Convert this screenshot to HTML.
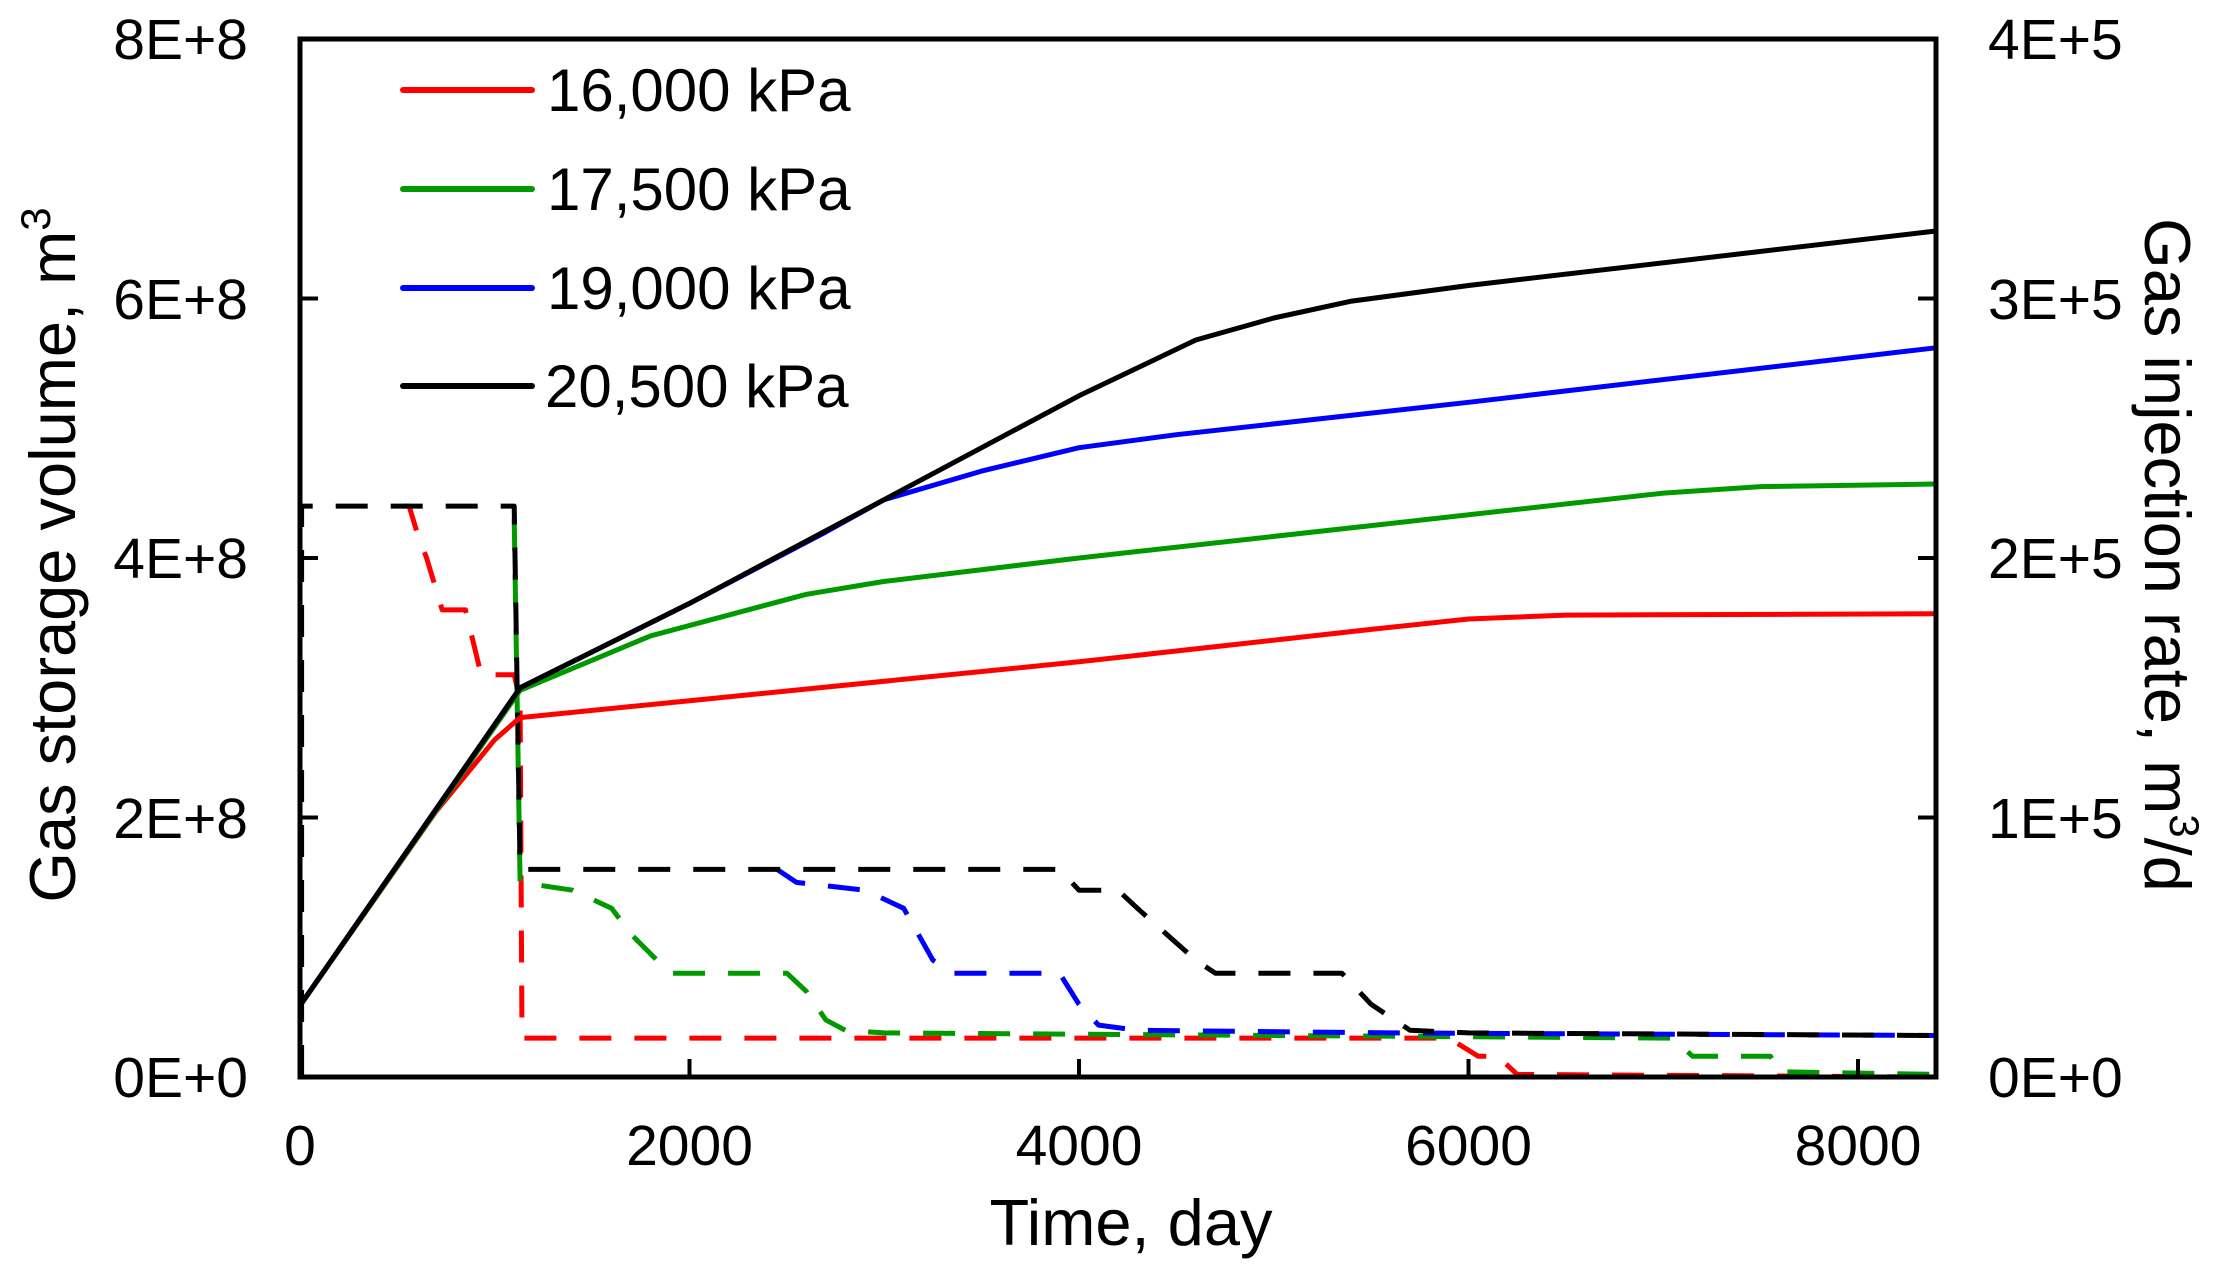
<!DOCTYPE html>
<html><head><meta charset="utf-8"><style>
html,body{margin:0;padding:0;background:#fff;}
svg{display:block;font-family:"Liberation Sans",Arial,sans-serif;}
</style></head><body>
<svg id="s" width="2215" height="1271" viewBox="0 0 2215 1271" xmlns="http://www.w3.org/2000/svg">
<rect width="2215" height="1271" fill="#fff"/>
<g id="series"></g>
<rect x="300" y="39" width="1636" height="1038" fill="none" stroke="#000" stroke-width="5"/>
<g stroke="#000" stroke-width="4">
<line x1="300" y1="817.5" x2="318" y2="817.5"/><line x1="300" y1="558" x2="318" y2="558"/><line x1="300" y1="298.5" x2="318" y2="298.5"/>
<line x1="1936" y1="817.5" x2="1918" y2="817.5"/><line x1="1936" y1="558" x2="1918" y2="558"/><line x1="1936" y1="298.5" x2="1918" y2="298.5"/>
<line x1="689.5" y1="1077" x2="689.5" y2="1059"/><line x1="1079" y1="1077" x2="1079" y2="1059"/><line x1="1468.5" y1="1077" x2="1468.5" y2="1059"/><line x1="1858" y1="1077" x2="1858" y2="1059"/>
</g>
<g font-size="57" fill="#000" text-anchor="end">
<text x="248" y="1097">0E+0</text><text x="248" y="838">2E+8</text><text x="248" y="578">4E+8</text><text x="248" y="319">6E+8</text><text x="248" y="59">8E+8</text>
</g>
<g font-size="57" fill="#000" text-anchor="start">
<text x="1988" y="1097">0E+0</text><text x="1988" y="838">1E+5</text><text x="1988" y="578">2E+5</text><text x="1988" y="319">3E+5</text><text x="1988" y="59">4E+5</text>
</g>
<g font-size="57" fill="#000" text-anchor="middle">
<text x="300" y="1165">0</text><text x="689.5" y="1165">2000</text><text x="1079" y="1165">4000</text><text x="1468.5" y="1165">6000</text><text x="1858" y="1165">8000</text>
</g>
<g font-size="65" fill="#000" text-anchor="middle">
<text x="1131" y="1245">Time, day</text>
<text transform="translate(75,555) rotate(-90)">Gas storage volume, m<tspan font-size="42" dy="-25">3</tspan></text>
<text transform="translate(2145,555) rotate(90)">Gas injection rate, m<tspan font-size="42" dy="-25">3</tspan><tspan dy="25">/d</tspan></text>
</g>
<g stroke-width="6" stroke-linecap="round">
<line x1="403" y1="90" x2="532" y2="90" stroke="#ff0000"/>
<line x1="403" y1="189" x2="532" y2="189" stroke="#009900"/>
<line x1="403" y1="288" x2="532" y2="288" stroke="#0000ff"/>
<line x1="403" y1="386" x2="532" y2="386" stroke="#000"/>
</g>
<g font-size="60" fill="#000">
<text x="547" y="111">16,000 kPa</text>
<text x="547" y="210">17,500 kPa</text>
<text x="547" y="309">19,000 kPa</text>
<text x="545" y="407">20,500 kPa</text>
</g>
</svg>
<script>
var X=function(d){return 300+d*0.19475},YL=function(v){return 1077-v*129.75},YR=function(r){return 1077-r*259.5};
function path(pts,f,color,dash){var d=pts.map(function(p,i){return (i?'L':'M')+X(p[0]).toFixed(1)+','+f(p[1]).toFixed(1)}).join(' ');
return '<path d="'+d+'" fill="none" stroke="'+color+'" stroke-width="5" stroke-linejoin="round"'+(dash?' stroke-dasharray="32,23"':'')+'/>';}
var s='';
s+=path([[527,2.2],[560,2.2],[600,2.1],[650,2.0],[730,1.8],[850,1.8],[930,1.55],[1100,1.55],[1130,1.45],[1140,0.15],[5900,0.15],[6050,0.08],[6150,0.08],[6250,0.01],[8400,0.0]],YR,'#ff0000',1);
s+=path([[1100,2.15],[1130,0.75],[1400,0.72],[1600,0.65],[1700,0.55],[1900,0.4],[2500,0.4],[2600,0.33],[2700,0.22],[2800,0.18],[3000,0.17],[7050,0.15],[7150,0.08],[7550,0.08],[7600,0.02],[8400,0.01]],YR,'#009900',1);
s+=path([[2450,0.8],[2550,0.75],[2900,0.72],[3100,0.65],[3250,0.45],[3350,0.4],[3900,0.4],[4000,0.28],[4100,0.2],[4300,0.18],[5600,0.17],[8400,0.16]],YR,'#0000ff',1);
s+=path([[8,0],[8,2.2],[1100,2.2],[1130,0.8],[3900,0.8],[4000,0.72],[4200,0.72],[4300,0.65],[4450,0.55],[4600,0.45],[4700,0.4],[5350,0.4],[5500,0.28],[5700,0.18],[6000,0.17],[8400,0.16]],YR,'#000',1);
s+=path([[0,0.55],[700,2.05],[1000,2.6],[1130,2.77],[2000,2.9],[4000,3.2],[5500,3.45],[6000,3.53],[6500,3.56],[8400,3.57]],YL,'#ff0000');
s+=path([[0,0.55],[1130,2.98],[1800,3.4],[2600,3.72],[3000,3.82],[4000,4.0],[5500,4.25],[7000,4.5],[7500,4.55],[8400,4.57]],YL,'#009900');
s+=path([[0,0.55],[1130,3.0],[2000,3.65],[2700,4.2],[3000,4.45],[3500,4.67],[4000,4.85],[4500,4.95],[6000,5.2],[8400,5.62]],YL,'#0000ff');
s+=path([[0,0.55],[1130,3.0],[2000,3.65],[3000,4.45],[4000,5.25],[4600,5.68],[5000,5.85],[5400,5.98],[6000,6.1],[8400,6.52]],YL,'#000');
document.getElementById('series').innerHTML=s;
</script>
</body></html>
